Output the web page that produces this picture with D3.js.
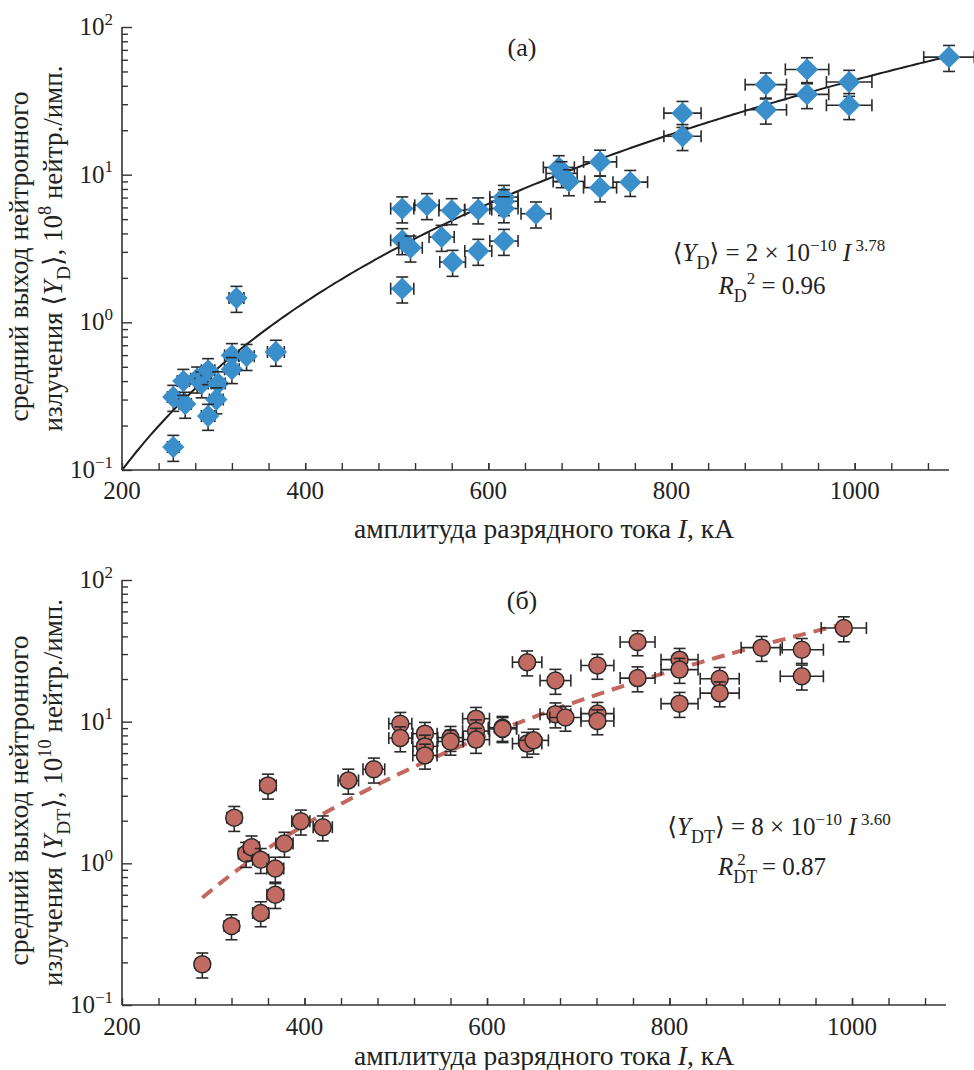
<!DOCTYPE html>
<html>
<head>
<meta charset="utf-8">
<script src="https://cdn.jsdelivr.net/npm/d3@7"></script>
<style>
  body { margin: 0; background: #fff; }
  text { font-family: "Liberation Serif", "DejaVu Serif", serif; fill: #222; }
</style>
</head>
<body>
<div id="chart"></div>
<script>
// Frame
const FRAME_WIDTH = 974;
const FRAME_HEIGHT = 1070;

// Panel (а): D yield, current in kA and yield in 10^8 n/shot
const I_D = [256, 256, 269, 267, 282, 287, 294, 305, 303, 294, 320, 320, 336, 368, 325,
             506, 533, 560, 589, 617, 617, 617, 652, 506, 515, 549, 561, 589, 617, 506,
             677, 680, 688, 722, 722, 755, 812, 812, 903, 903, 948, 948, 994, 994, 1103];
const Y_D = [0.143, 0.312, 0.28, 0.40, 0.415, 0.385, 0.473, 0.385, 0.30, 0.232, 0.598, 0.481, 0.59, 0.63, 1.46,
             5.89, 6.2, 5.73, 5.8, 7.05, 6.6, 5.9, 5.44, 3.59, 3.2, 3.78, 2.56, 3.04, 3.55, 1.69,
             11.2, 10.2, 9.0, 12.2, 8.17, 8.9, 26.1, 18.2, 40.7, 27.5, 51.6, 35.0, 42.4, 29.5, 62.5];

// Panel (б): DT yield, current in kA and yield in 10^10 n/shot
const I_DT = [288, 320, 323, 360, 336, 342, 352, 368, 368, 352, 378, 396, 420, 448, 476,
              505, 505, 532, 532, 532, 560, 560, 588, 588, 588, 617, 617, 644, 651, 644,
              675, 675, 686, 721, 721, 721, 765, 765, 811, 811, 811, 855, 855, 901, 945, 945, 991];
const Y_DT = [0.194, 0.361, 2.1, 3.55, 1.17, 1.30, 1.06, 0.92, 0.60, 0.446, 1.38, 1.98, 1.80, 3.85, 4.61,
              9.68, 7.66, 8.23, 6.69, 5.78, 7.71, 7.25, 10.5, 8.58, 7.47, 9.07, 8.9, 7.0, 7.38, 26.3,
              19.5, 11.3, 10.7, 24.9, 11.4, 10.1, 36.5, 20.3, 27.4, 23.3, 13.4, 20.1, 15.9, 33.3, 32.2, 20.9, 45.8];

// Relative errors of the points
const X_ERR = 0.025;
const Y_ERR = 0.2;

// Power-law fits <Y> = A * I^B, drawn over the given current range
const FIT_D = {a: 2e-10, b: 3.78, from: 200, to: 1103};
const FIT_DT = {a: 8e-10, b: 3.60, from: 288, to: 991};

// Ticks
const X_DOMAIN = [200, 1103];
const X_TICKS = [200, 400, 600, 800, 1000];
const X_MINOR = d3.range(240, 1100, 40);
const Y_DOMAIN = [0.1, 100];
const Y_TICKS = [0.1, 1, 10, 100];
const Y_TICK_EXP = ["\u22121", "0", "1", "2"];

const svg = d3.select("#chart")
  .append("svg")
    .attr("width", FRAME_WIDTH)
    .attr("height", FRAME_HEIGHT);

// append a line of text made of styled pieces (italic / sub / sup)
function richText(sel, parts, size) {
  let shift = 0;
  parts.forEach((p) => {
    let target = 0;
    let fs = size;
    if (p.sub) { target = size * 0.3; fs = size * 0.72; }
    if (p.sup) { target = -size * 0.42; fs = size * 0.68; }
    sel.append("tspan")
      .attr("dy", target - shift)
      .attr("dx", p.dx || 0)
      .attr("font-size", fs)
      .attr("font-style", p.it ? "italic" : "normal")
      .text(p.t);
    shift = target;
  });
}

function drawPanel(cfg) {
  const X_SCALE = d3.scaleLinear().domain(X_DOMAIN).range([cfg.left, cfg.right]);
  const Y_SCALE = d3.scaleLog().domain(Y_DOMAIN).range([cfg.bottom, cfg.top]);
  const g = svg.append("g");

  // fit curve
  const fitI = d3.range(cfg.fit.from, cfg.fit.to, 4).concat([cfg.fit.to]);
  g.append("path")
    .datum(fitI)
    .attr("fill", "none")
    .attr("stroke", cfg.fitColor)
    .attr("stroke-width", cfg.fitWidth)
    .attr("stroke-dasharray", cfg.fitDash)
    .attr("d", d3.line()
      .x((d) => X_SCALE(d))
      .y((d) => Y_SCALE(cfg.fit.a * Math.pow(d, cfg.fit.b))));

  // points with error bars
  const pts = cfg.xs.map((x, i) => ({x: x, y: cfg.ys[i]}));
  const pg = g.selectAll(".pt").data(pts).enter().append("g").attr("class", "pt");
  const cap = 6;
  pg.each(function(d) {
    const s = d3.select(this);
    const px = X_SCALE(d.x), py = Y_SCALE(d.y);
    const x0 = X_SCALE(d.x * (1 - X_ERR)), x1 = X_SCALE(d.x * (1 + X_ERR));
    const y0 = Y_SCALE(d.y * (1 - Y_ERR)), y1 = Y_SCALE(d.y * (1 + Y_ERR));
    const segs = [
      [x0, py, x1, py], [x0, py - cap, x0, py + cap], [x1, py - cap, x1, py + cap],
      [px, y0, px, y1], [px - cap, y0, px + cap, y0], [px - cap, y1, px + cap, y1]
    ];
    segs.forEach((l) => {
      s.append("line")
        .attr("x1", l[0]).attr("y1", l[1]).attr("x2", l[2]).attr("y2", l[3])
        .attr("stroke", "#2a2a2a").attr("stroke-width", 1.6);
    });
    if (cfg.marker === "diamond") {
      s.append("path")
        .attr("d", d3.symbol(d3.symbolSquare, 250)())
        .attr("transform", "translate(" + px + "," + py + ") rotate(45)")
        .attr("fill", "#3a8fcb");
    } else {
      s.append("circle")
        .attr("cx", px).attr("cy", py).attr("r", 8.5)
        .attr("fill", "#c26b62")
        .attr("stroke", "#2a2a2a").attr("stroke-width", 1.5);
    }
  });

  // x axis, ticks pointing inward
  const xAxis = g.append("g")
    .attr("transform", "translate(0," + cfg.bottom + ")")
    .call(d3.axisBottom(X_SCALE).tickValues(X_TICKS.concat(X_MINOR))
      .tickSize(-7).tickFormat(""));
  xAxis.select(".domain").attr("stroke", "#333").attr("stroke-width", 1.6)
    .attr("d", "M" + cfg.left + ",0H" + cfg.right);
  xAxis.selectAll(".tick line").attr("stroke", "#333").attr("stroke-width", 1.4);
  g.selectAll(".xlab").data(X_TICKS).enter().append("text")
    .attr("x", (d) => X_SCALE(d))
    .attr("y", cfg.bottom + cfg.tickGap)
    .attr("text-anchor", "middle")
    .attr("font-size", 25)
    .text((d) => d);

  // y axis, major and minor ticks pointing inward
  const minor = [];
  [0.1, 1, 10].forEach((dec) => d3.range(2, 10).forEach((k) => minor.push(dec * k)));
  const yMinor = g.append("g")
    .attr("transform", "translate(" + cfg.left + ",0)")
    .call(d3.axisLeft(Y_SCALE).tickValues(minor).tickSize(-6).tickFormat(""));
  yMinor.select(".domain").remove();
  const yAxis = g.append("g")
    .attr("transform", "translate(" + cfg.left + ",0)")
    .call(d3.axisLeft(Y_SCALE).tickValues(Y_TICKS).tickSize(-10).tickFormat(""));
  yAxis.select(".domain").attr("stroke", "#333").attr("stroke-width", 1.6)
    .attr("d", "M0," + cfg.top + "V" + cfg.bottom);
  g.selectAll(".tick line").attr("stroke", "#333").attr("stroke-width", 1.4);

  Y_TICKS.forEach((v, i) => {
    const t = g.append("text")
      .attr("x", cfg.left - 9)
      .attr("y", Y_SCALE(v) + 8)
      .attr("text-anchor", "end")
      .attr("font-size", 25);
    richText(t, [{t: "10"}, {t: Y_TICK_EXP[i], sup: true}], 25);
  });

  // axis titles
  g.append("text")
    .attr("x", 544)
    .attr("y", cfg.bottom + cfg.titleGap)
    .attr("text-anchor", "middle")
    .attr("font-size", 27.5)
    .call((t) => richText(t, [{t: "амплитуда разрядного тока "}, {t: "I", it: true}, {t: ", кА"}], 27.5));

  const yc = (cfg.top + cfg.bottom) / 2;
  g.append("text")
    .attr("transform", "translate(28," + (yc + 8) + ") rotate(-90)")
    .attr("text-anchor", "middle")
    .attr("font-size", 27.5)
    .text("средний выход нейтронного");
  g.append("text")
    .attr("transform", "translate(62," + yc + ") rotate(-90)")
    .attr("text-anchor", "middle")
    .attr("font-size", 27)
    .call((t) => richText(t, cfg.yTitle, 27));

  // panel letter
  g.append("text")
    .attr("x", 522)
    .attr("y", cfg.top + 29)
    .attr("text-anchor", "middle")
    .attr("font-size", 26)
    .text(cfg.letter);

  // fit equation
  const e1 = g.append("text")
    .attr("x", 779).attr("y", cfg.eqY)
    .attr("text-anchor", "middle").attr("font-size", 25);
  richText(e1, cfg.eq1, 25);
  const e2 = g.append("text")
    .attr("x", 772).attr("y", cfg.eqY + cfg.eqGap)
    .attr("text-anchor", "middle").attr("font-size", 25);
  richText(e2, cfg.eq2, 25);
}

drawPanel({
  left: 122, right: 949, top: 27, bottom: 470, tickGap: 29, titleGap: 68,
  xs: I_D, ys: Y_D, marker: "diamond",
  fit: FIT_D, fitColor: "#1e1e1e", fitWidth: 2, fitDash: null,
  letter: "(а)",
  yTitle: [{t: "излучения \u27e8"}, {t: "Y", it: true}, {t: "D", sub: true}, {t: "\u27e9, 10"},
           {t: "8", sup: true}, {t: " нейтр./имп."}],
  eqY: 261, eqGap: 33,
  eq1: [{t: "\u27e8"}, {t: "Y", it: true}, {t: "D", sub: true}, {t: "\u27e9 = 2 \u00d7 10"},
        {t: "\u221210", sup: true}, {t: " "}, {t: "I", it: true}, {t: " 3.78", sup: true}],
  eq2: [{t: "R", it: true}, {t: "D", sub: true}, {t: "2", sup: true}, {t: " = 0.96"}]
});

drawPanel({
  left: 122, right: 946, top: 580, bottom: 1005, tickGap: 30, titleGap: 60,
  xs: I_DT, ys: Y_DT, marker: "circle",
  fit: FIT_DT, fitColor: "#c4675f", fitWidth: 4, fitDash: "13,8",
  letter: "(б)",
  yTitle: [{t: "излучения \u27e8"}, {t: "Y", it: true}, {t: "DT", sub: true}, {t: "\u27e9, 10"},
           {t: "10", sup: true}, {t: " нейтр./имп."}],
  eqY: 835, eqGap: 40,
  eq1: [{t: "\u27e8"}, {t: "Y", it: true}, {t: "DT", sub: true}, {t: "\u27e9 = 8 \u00d7 10"},
        {t: "\u221210", sup: true}, {t: " "}, {t: "I", it: true}, {t: " 3.60", sup: true}],
  eq2: [{t: "R", it: true}, {t: "DT", sub: true}, {t: "2", sup: true, dx: -20}, {t: " = 0.87", dx: 10}]
});
</script>
</body>
</html>
